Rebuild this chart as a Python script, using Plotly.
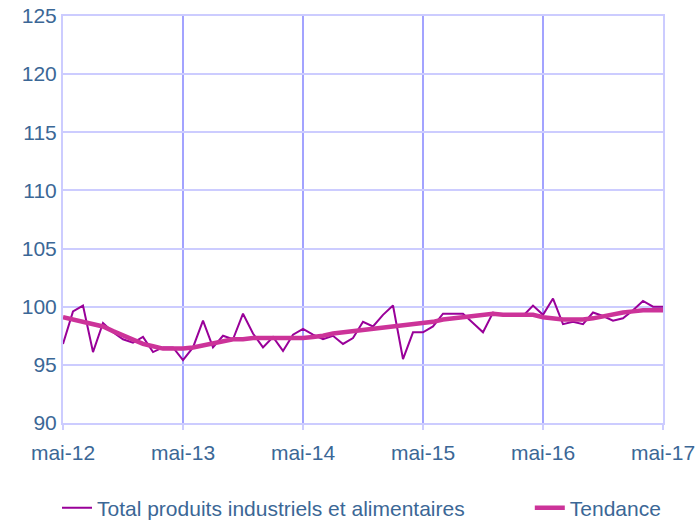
import plotly.graph_objects as go

tick_labels = ["mai-12", "mai-13", "mai-14", "mai-15", "mai-16", "mai-17"]
y_ticks = [90, 95, 100, 105, 110, 115, 120, 125]

total = [96.8, 99.6, 100.1, 96.1, 98.6, 97.8, 97.2, 96.9, 97.4, 96.1, 96.5, 96.5,
         95.4, 96.5, 98.8, 96.5, 97.5, 97.2, 99.4, 97.7, 96.5, 97.4, 96.2, 97.6,
         98.1, 97.6, 97.2, 97.5, 96.8, 97.3, 98.7, 98.3, 99.3, 100.1, 95.5, 97.8,
         97.8, 98.3, 99.4, 99.4, 99.4, 98.6, 97.8, 99.5, 99.3, 99.2, 99.2, 100.1,
         99.3, 100.7, 98.5, 98.7, 98.5, 99.5, 99.2, 98.8, 99.0, 99.7, 100.5, 100.0,
         100.0]
tendance = [99.1, 98.9, 98.7, 98.5, 98.3, 97.9, 97.5, 97.2, 96.8, 96.6, 96.4, 96.4,
            96.4, 96.5, 96.7, 96.9, 97.1, 97.2, 97.2, 97.3, 97.3, 97.3, 97.3, 97.3,
            97.3, 97.4, 97.5, 97.7, 97.8, 97.9, 98.0, 98.1, 98.2, 98.3, 98.4, 98.5,
            98.6, 98.7, 98.9, 99.0, 99.1, 99.2, 99.3, 99.4, 99.3, 99.3, 99.3, 99.3,
            99.1, 99.0, 98.9, 98.9, 98.9, 99.0, 99.2, 99.3, 99.5, 99.6, 99.7, 99.7,
            99.7]

months = list(range(len(total)))
font = "Liberation Sans, Arial, sans-serif"
txt = "#3b6796"

fig = go.Figure()
fig.add_trace(go.Scatter(x=months, y=total, mode="lines",
                         name="Total produits industriels et alimentaires",
                         line=dict(color="#990099", width=2), legend="legend"))
fig.add_trace(go.Scatter(x=months, y=tendance, mode="lines", name="Tendance",
                         line=dict(color="#cc3399", width=4.5), legend="legend2"))

leg_common = dict(orientation="h", xanchor="left", yanchor="middle",
                  font=dict(size=21, color=txt), bgcolor="rgba(0,0,0,0)")

fig.update_layout(
    width=697, height=521,
    margin=dict(l=63, r=34, t=16, b=98, autoexpand=False),
    paper_bgcolor="white", plot_bgcolor="white",
    font=dict(family=font, size=21, color=txt),
    showlegend=True,
    legend=dict(x=-0.01, y=-0.209, **leg_common),
    legend2=dict(x=0.778, y=-0.209, **leg_common),
    xaxis=dict(range=[0, 60], tickvals=[0, 12, 24, 36, 48, 60], ticktext=tick_labels,
               showgrid=True, gridcolor="#a3a3ff", gridwidth=2,
               showline=True, linecolor="#ccccff", linewidth=2, mirror=True,
               ticks="outside", ticklen=5, tickcolor="#ccccff", tickwidth=2,
               ticklabelstandoff=5, ticklabeloverflow="allow",
               zeroline=False, automargin=False, tickfont=dict(size=21, color=txt)),
    yaxis=dict(range=[90, 125], tickvals=y_ticks,
               showgrid=True, gridcolor="#ccccff", gridwidth=2,
               showline=True, linecolor="#ccccff", linewidth=2, mirror=True,
               ticks="", ticklabelstandoff=0, ticklabeloverflow="allow",
               zeroline=False, automargin=False,
               tickfont=dict(size=21, color=txt)),
)

fig.write_html("out.html", config={"displayModeBar": False},
               post_script="document.body.style.margin='0';document.body.style.overflow='hidden';")
